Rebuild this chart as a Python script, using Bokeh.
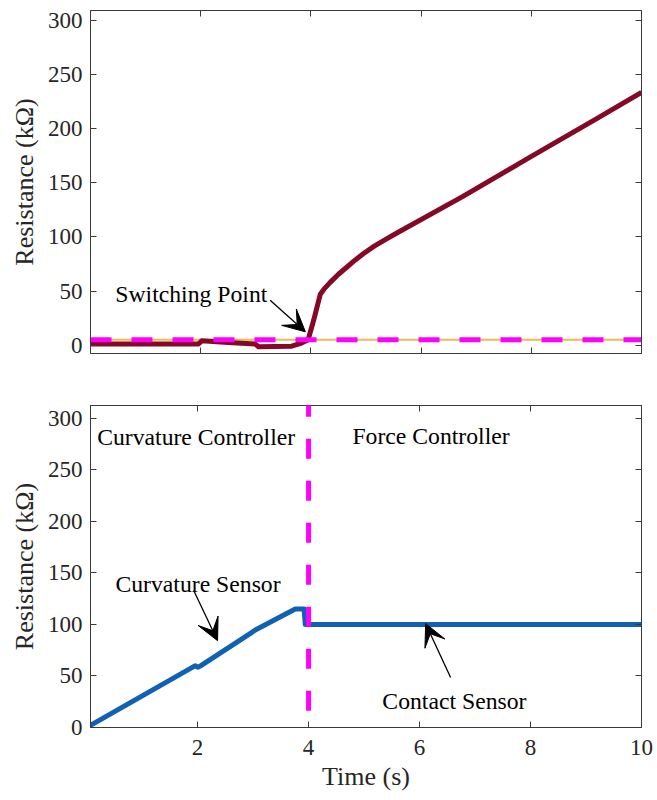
from bokeh.plotting import figure
from bokeh.models import LinearAxis, FixedTicker, Range1d, Label, Arrow, VeeHead, CustomJSTickFormatter
from bokeh.layouts import column
from bokeh.embed import file_html
from bokeh.resources import INLINE

# ---- data -------------------------------------------------------------
# contact sensor resistance (upper panel)
t_contact = [0, 1.0, 1.96, 2.02, 2.5, 2.99, 3.05, 3.65, 3.83, 3.95, 4.05, 4.17,
             4.25, 4.35, 4.5, 4.65, 4.8, 4.95, 5.15, 5.35, 5.56, 6.76, 7.97, 9.18, 10.0]
r_contact = [1, 1, 1, 4, 2.5, 1, -1.5, -1, 2, 5, 23, 47,
             52.5, 58, 65.5, 72, 78.5, 84.5, 91.5, 97.5, 103.6, 137.5, 173.5, 209, 233.5]

# switching threshold on the contact sensor
t_threshold = [0, 10]
r_threshold = [5, 5]

# curvature / contact sensor feedback (lower panel)
t_feedback = [0, 1.96, 2.0, 2.06, 2.98, 3.04, 3.76, 3.92, 3.94, 10.0]
r_feedback = [0, 60, 58.5, 60, 92.4, 94.7, 115, 115, 100, 100]

switch_time = 4.0

x_ticks = [2, 4, 6, 8, 10]
y_ticks = [0, 50, 100, 150, 200, 250, 300]

# ---- style ------------------------------------------------------------
FONT = "Liberation Serif"
AX = "#3a3a3a"
TICK_SIZE = "23px"
LABEL_SIZE = "26px"
TEXT_SIZE = "23.7px"
RED = "#850826"
BLUE = "#1061b4"
MAGENTA = "#ff00ff"
ORANGE = "#f0b85a"


def style_axis(ax, ticks):
    ax.ticker = FixedTicker(ticks=ticks)
    ax.major_tick_in = 6
    ax.major_tick_out = 0
    ax.minor_tick_in = 0
    ax.minor_tick_out = 0
    ax.axis_line_color = AX
    ax.major_tick_line_color = AX
    ax.major_label_text_font = FONT
    ax.major_label_text_font_size = TICK_SIZE
    ax.major_label_text_color = "#262626"
    ax.axis_label_text_font = FONT
    ax.axis_label_text_font_size = LABEL_SIZE
    ax.axis_label_text_font_style = "normal"
    ax.axis_label_text_color = "#262626"


def tick_only_axis(ticks):
    # axis that draws inward tick marks but no labels
    return LinearAxis(ticker=FixedTicker(ticks=ticks),
                      formatter=CustomJSTickFormatter(code="return ''"),
                      major_tick_in=6, major_tick_out=0,
                      minor_tick_in=0, minor_tick_out=0,
                      major_label_text_font_size="1px",
                      major_label_standoff=0,
                      axis_line_color=AX, major_tick_line_color=AX)


def base_figure(height, x_range, y_range, border_top, border_bottom, border_right, show_x_labels):
    p = figure(width=657, height=height, x_range=x_range, y_range=y_range,
               output_backend="svg", toolbar_location=None,
               x_axis_location=None, y_axis_location=None,
               min_border_left=90, min_border_right=border_right,
               min_border_top=border_top, min_border_bottom=border_bottom,
               background_fill_color="white", border_fill_color="white")
    p.xgrid.visible = False
    p.ygrid.visible = False
    p.outline_line_color = AX
    p.outline_line_width = 1

    left = LinearAxis(axis_label="Resistance (kΩ)", major_label_standoff=8, axis_label_standoff=6)
    style_axis(left, y_ticks)
    p.add_layout(left, "left")

    if show_x_labels:
        below = LinearAxis(major_label_standoff=12)
        style_axis(below, x_ticks)
    else:
        below = tick_only_axis(x_ticks)
    p.add_layout(below, "below")

    # mirrored tick marks on the top and right edges
    p.add_layout(tick_only_axis(x_ticks), "above")
    p.add_layout(tick_only_axis(y_ticks), "right")
    return p, below


def note(p, x, y, text):
    p.add_layout(Label(x=x, y=y, text=text, text_font=FONT, text_font_size=TEXT_SIZE,
                       text_color="black", text_align="left", text_baseline="alphabetic"))


def pointer(p, x0, y0, x1, y1):
    p.add_layout(Arrow(end=VeeHead(size=22, fill_color="black", line_color="black"),
                       x_start=x0, y_start=y0, x_end=x1, y_end=y1,
                       line_color="black", line_width=1.3))


# ---- upper panel: contact sensor and switching threshold --------------
top, _ = base_figure(380, Range1d(0, 10), Range1d(-7.7, 309.2), 10, 27, 15, False)
top.line(t_threshold, r_threshold, line_color=ORANGE, line_width=2)
top.line(t_contact, r_contact, line_color=RED, line_width=5, line_join="round")
top.line(t_threshold, r_threshold, line_color=MAGENTA, line_width=5, line_dash="21 20")
note(top, 0.45, 47, "Switching Point")
pointer(top, 3.26, 41.5, 3.9, 12.3)

# ---- lower panel: sensor feedback with controller regions -------------
bot, bot_x = base_figure(420, Range1d(0.07, 10), Range1d(0, 312.6), 25, 73, 16, True)
bot_x.axis_label = "Time (s)"
bot_x.axis_label_standoff = 4
bot.line(t_feedback, r_feedback, line_color=BLUE, line_width=5, line_join="round")
bot.add_layout(Arrow(end=None, x_start=switch_time, y_start=321, x_end=switch_time, y_end=0,
                     line_color=MAGENTA, line_width=5, line_dash="20 22"))
note(bot, 0.19, 282, "Curvature Controller")
note(bot, 4.79, 283, "Force Controller")
note(bot, 0.52, 139.5, "Curvature Sensor")
note(bot, 5.33, 26, "Contact Sensor")
pointer(bot, 1.93, 133, 2.36, 84.3)
pointer(bot, 6.56, 48.6, 6.11, 100.8)

layout = column(top, bot, spacing=0)
open("out.html", "w").write(file_html(layout, INLINE))
